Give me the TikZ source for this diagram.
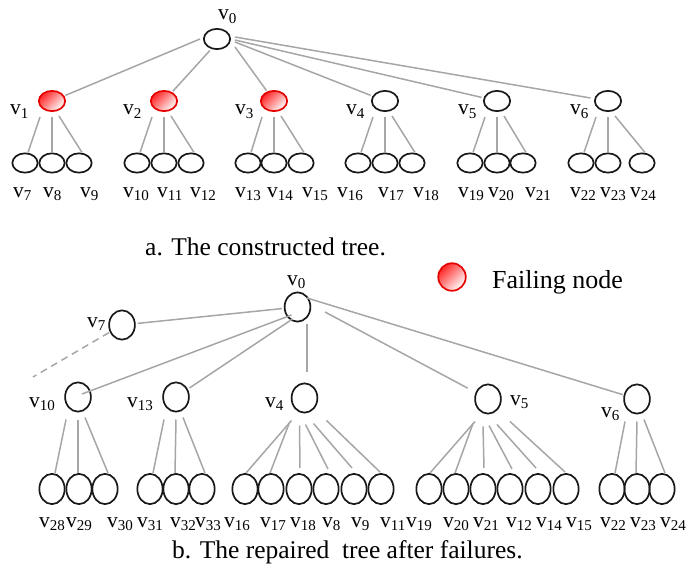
\documentclass[tikz,border=0pt]{standalone}
\usepackage{fontspec}
\setmainfont{Liberation Serif}
\usetikzlibrary{shapes.geometric}

\tikzset{
  vnode/.style={ellipse, draw=black!90, line width=1.7pt, minimum width=26.3pt, minimum height=20.3pt, inner sep=0pt},
  leaf/.style={vnode, minimum width=25.3pt, minimum height=19.3pt},
  failnode/.style={vnode, draw=red!90!black, left color=red!85, middle color=red!25, right color=white, shading angle=45},
  rnode/.style={vnode, minimum width=25.8pt, minimum height=29.3pt},
  rleaf/.style={vnode, minimum width=25.3pt, minimum height=30.3pt},
  link/.style={draw=black!35, line width=1.5pt},
  lbl/.style={anchor=base west, inner sep=0pt, font=\fontsize{21.5}{24}\selectfont},
  caption/.style={anchor=base west, inner sep=0pt, font=\fontsize{25.5}{28}\selectfont}
}

\begin{document}
\begin{tikzpicture}[x=1pt, y=-1pt]
        \useasboundingbox (0,0) rectangle (686,567);

        % Исходное дерево
        \node[vnode] (a0) at (217,39) {};
        \node[lbl] at (218,20) {v\textsubscript{0}};
        \foreach \n/\x/\lx in {1/52/10, 2/164/123, 3/274/235}
        {
            \node[failnode] (a\n) at (\x,101) {};
            \node[lbl] at (\lx,115) {v\textsubscript{\n}};
        }
        \foreach \n/\x/\lx in {4/385/346, 5/497/458, 6/608/570}
        {
            \node[vnode] (a\n) at (\x,101) {};
            \node[lbl] at (\lx,115) {v\textsubscript{\n}};
        }

        % Листья
        \foreach \n/\x/\lx in {
            7/25/13, 8/52/43, 9/79/80, 10/137/123, 11/164/157, 12/191/190,
            13/248/235, 14/274/267, 15/301/302, 16/358/337, 17/385/378, 18/412/413,
            19/470/458, 20/497/488, 21/523/525, 22/581/570, 23/608/600, 24/642/630}
        {
            \node[leaf] (a\n) at (\x,163) {};
            \node[lbl] at (\lx,197) {v\textsubscript{\n}};
        }

        % Рёбра от корня
        \draw[link, shorten >=1pt] ([xshift=-3pt]a0.west) -- (a1);
        \draw[link, shorten <=2pt, shorten >=1pt] (a0.240) -- (a2);
        \draw[link, shorten >=1pt] ([xshift=4pt,yshift=-8pt]a0.east) -- (a3);
        \draw[link, shorten >=2pt] ([xshift=4pt,yshift=-3pt]a0.east) -- (a4);
        \draw[link, shorten >=2pt] ([xshift=4pt,yshift=-1pt]a0.east) -- (a5);
        \draw[link, shorten >=4pt] ([xshift=4pt,yshift=2pt]a0.east) -- (a6);

        % Рёбра к листьям
        \foreach \p/\l/\m/\r in {1/7/8/9, 2/10/11/12, 3/13/14/15, 4/16/17/18, 5/19/20/21, 6/22/23/24}
        {
            \draw[link] ([xshift=-12pt,yshift=-5pt]a\p.south) -- ([xshift=3pt]a\l.north);
            \draw[link] ([yshift=-5pt]a\p.south) -- (a\m.north);
            \draw[link] ([xshift=7pt,yshift=-4pt]a\p.south) -- ([xshift=3pt]a\r.north);
        }

        \node[caption] at (145,255) {a. The constructed tree.};

        % Легенда
        \node[failnode, minimum width=27.5pt, minimum height=27.5pt] (legend) at (452,277) {};
        \node[caption, font=\fontsize{26}{28}\selectfont] at (492,288) {Failing node};

        % Восстановленное дерево
        \node[rnode] (b0) at (297.5,307) {};
        \node[lbl] at (287,285) {v\textsubscript{0}};
        \node[rnode] (b7) at (122,325) {};
        \node[lbl] at (87,327) {v\textsubscript{7}};
        \foreach \n/\x/\y/\lx/\ly in {10/78/397/29/407, 13/176/397/127/407, 4/304.5/398/265/407,
            5/488/399/510/405, 6/637/399/601/417}
        {
            \node[rnode] (b\n) at (\x,\y) {};
            \node[lbl] at (\lx,\ly) {v\textsubscript{\n}};
        }

        % Листья
        \foreach \n/\x/\lx in {
            28/52/39, 29/79/66, 30/105/107, 31/150/137, 32/176/170, 33/202/195,
            16/245/224, 17/271/260, 18/299/290, 8/326/322, 9/354/351, 11/381/380,
            19/429/406, 20/456/443, 21/483/473, 12/510/506, 14/538/536, 15/566/566,
            22/612/600, 23/637/630, 24/662/660}
        {
            \node[rleaf] (b\n) at (\x,489) {};
            \node[lbl] at (\lx,527) {v\textsubscript{\n}};
        }

        % Рёбра от корня
        \coordinate (cut) at (33,377);
        \draw[link, dash pattern=on 7pt off 5pt, shorten <=1pt] (b7) -- (cut);
        \draw[link, shorten <=2pt, shorten >=2pt] (b0) -- (b7);
        \draw[link] ([xshift=-6pt,yshift=-8pt]b0.center) -- ([xshift=4pt,yshift=3pt]b10.center);
        \draw[link, shorten >=2pt] ([xshift=-5pt,yshift=-12pt]b0.center) -- (b13);
        \draw[link] ([xshift=9.5pt,yshift=-1pt]b0.south) -- ([xshift=2.5pt,yshift=11pt]b4.north);
        \draw[link, shorten >=9pt] ([xshift=27.5pt,yshift=-5pt]b0.center) -- (b5);
        \draw[link, shorten >=1pt] ([xshift=9.5pt,yshift=9pt]b0.center) -- (b6);

        % Рёбра к листьям
        \foreach \p/\l/\m/\r in {10/28/29/30, 13/31/32/33, 6/22/23/24}
        {
            \draw[link] ([xshift=-12pt,yshift=-7pt]b\p.south) -- ([xshift=3pt]b\l.north);
            \draw[link] ([yshift=-7pt]b\p.south) -- ([xshift=-1pt]b\m.north);
            \draw[link] ([xshift=7pt,yshift=-5pt]b\p.south) -- ([xshift=3pt]b\r.north);
        }
        \foreach \p/\c/\sx/\sy/\ex/\ey in {
            4/16/-13/7/1/0, 4/17/-15/9/-1/0, 4/18/-5/12/1/5, 4/8/1/11/2/4, 4/9/9/10/-2/5, 4/11/22/7/-1/1,
            5/19/-13/7/1/0, 5/20/-15/9/-1/0, 5/21/-5/12/1/5, 5/12/1/11/2/4, 5/14/9/10/-2/5, 5/15/22/7/-1/1}
        {
            \draw[link] ([xshift=\sx pt,yshift=-\sy pt]b\p.south) -- ([xshift=\ex pt,yshift=\ey pt]b\c.north);
        }

        \node[caption] at (172,558) {b. The repaired\ \ tree after failures.};
\end{tikzpicture}
\end{document}
